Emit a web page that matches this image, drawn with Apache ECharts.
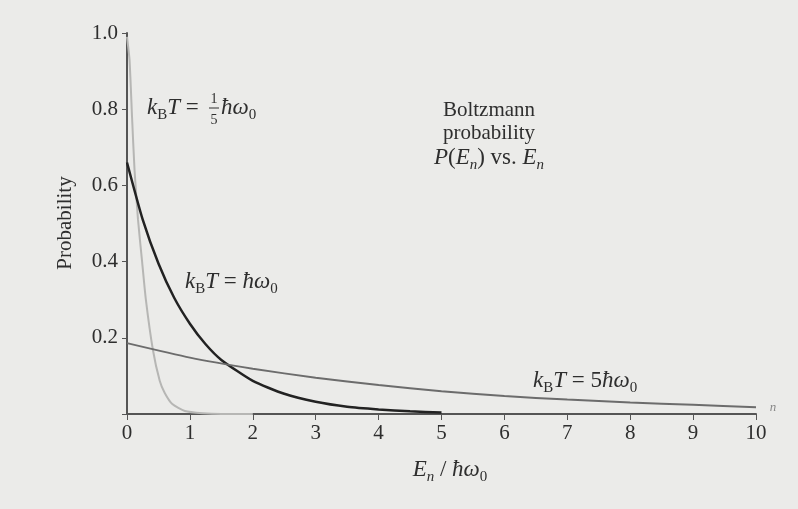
<!DOCTYPE html>
<html>
<head>
<meta charset="utf-8">
<script src="https://cdn.jsdelivr.net/npm/echarts@6/dist/echarts.min.js"></script>
<style>
  html, body { margin: 0; padding: 0; background: #ebebe9; }
  #chart { width: 798px; height: 509px; }
</style>
</head>
<body>
<div id="chart"></div>
<script>
// 读图数据
// kBT = 1/5 ħω0
const lowX = [0, 0.04, 0.08, 0.12, 0.175, 0.24, 0.3, 0.41, 0.52, 0.6, 0.72, 0.92, 1.2, 1.5, 2.0];
const lowY = [0.99, 0.93, 0.78, 0.64, 0.51, 0.40, 0.30, 0.17, 0.087, 0.055, 0.026, 0.008, 0.002, 0.0, 0.0];

// kBT = ħω0
const midX = [0, 0.25, 0.5, 0.75, 1, 1.25, 1.5, 2, 2.5, 3, 3.5, 4, 4.5, 5];
const midY = [0.66, 0.51, 0.395, 0.305, 0.237, 0.183, 0.142, 0.087, 0.053, 0.032, 0.019, 0.012, 0.007, 0.004];

// kBT = 5ħω0
const highX = [0, 1, 2, 3, 4, 5, 6, 7, 8, 9, 10];
const highY = [0.186, 0.148, 0.119, 0.095, 0.076, 0.060, 0.047, 0.038, 0.030, 0.024, 0.018];

const SERIF = '"Liberation Serif", "DejaVu Serif", serif';
const INK = '#2e2e2e';

function pairs(xs, ys) {
    return xs.map((x, i) => [x, ys[i]]);
}

const rich = {
    i: { fontFamily: SERIF, fontSize: 23, fontStyle: 'italic', color: INK },
    r: { fontFamily: SERIF, fontSize: 23, color: INK },
    s: { fontFamily: SERIF, fontSize: 15, color: INK, verticalAlign: 'bottom', padding: [14, 0, 0, 0] },
    si: { fontFamily: SERIF, fontSize: 15, fontStyle: 'italic', color: INK, verticalAlign: 'bottom', padding: [14, 0, 0, 0] }
};

// 富文本标签（x 为左端或中心，y 为中线）
function label(x, y, text, align) {
    return {
        type: 'text', x: x, y: y,
        style: { text: text, rich: rich, fill: INK, align: align || 'left', verticalAlign: 'middle' }
    };
}

function plainText(x, y, text, size) {
    return {
        type: 'text', x: x, y: y,
        style: { text: text, fill: INK, font: size + 'px ' + SERIF, align: 'center', verticalAlign: 'middle' }
    };
}

const chart = echarts.init(document.getElementById('chart'));

const option = {
    backgroundColor: '#ebebe9',
    animation: false,
    grid: { left: 127, right: 42, top: 33, bottom: 95 },
    xAxis: {
        type: 'value', min: 0, max: 10, interval: 1,
        splitLine: { show: false },
        axisLine: { lineStyle: { color: '#555', width: 2 } },
        axisTick: { length: 6, lineStyle: { color: '#555' } },
        axisLabel: { color: INK, fontSize: 21, fontFamily: SERIF, margin: 9 }
    },
    yAxis: {
        type: 'value', min: 0, max: 1, interval: 0.2,
        splitLine: { show: false },
        axisLine: { show: true, lineStyle: { color: '#555', width: 2 } },
        axisTick: { show: true, length: 5, lineStyle: { color: '#555' } },
        axisLabel: {
            color: INK, fontSize: 21, fontFamily: SERIF, margin: 9,
            formatter: v => v === 0 ? '' : v.toFixed(1)
        }
    },
    series: [
        {
            type: 'line', data: pairs(lowX, lowY), showSymbol: false, smooth: 0.2,
            lineStyle: { color: '#b6b6b4', width: 2 }
        },
        {
            type: 'line', data: pairs(midX, midY), showSymbol: false, smooth: 0.2,
            lineStyle: { color: '#222', width: 2.5 }
        },
        {
            type: 'line', data: pairs(highX, highY), showSymbol: false, smooth: 0.2,
            lineStyle: { color: '#6c6c6c', width: 2 }
        }
    ],
    graphic: [
        // kBT = 1/5 ħω0
        label(147, 108, '{i|k}{s|B}{i|T}{r| =}'),
        plainText(214, 99, '1', 14),
        { type: 'line', shape: { x1: 209, y1: 108, x2: 219, y2: 108 }, style: { stroke: INK, lineWidth: 1 } },
        plainText(214, 120, '5', 14),
        label(221, 108, '{i|ħω}{s|0}'),
        // kBT = ħω0
        label(185, 282, '{i|k}{s|B}{i|T}{r| = }{i|ħω}{s|0}'),
        // kBT = 5ħω0
        label(533, 381, '{i|k}{s|B}{i|T}{r| = 5}{i|ħω}{s|0}'),
        // 标题
        plainText(489, 110, 'Boltzmann', 21),
        plainText(489, 133, 'probability', 21),
        label(489, 158, '{i|P}{r|(}{i|E}{si|n}{r|) vs. }{i|E}{si|n}', 'center'),
        // 坐标轴名称
        label(450, 470, '{i|E}{si|n}{r| / }{i|ħω}{s|0}', 'center'),
        {
            type: 'text', x: 65, y: 223, rotation: Math.PI / 2,
            style: { text: 'Probability', fill: INK, font: '21px ' + SERIF, align: 'center', verticalAlign: 'middle' }
        },
        {
            type: 'text', x: 773, y: 408,
            style: { text: 'n', fill: '#888', font: 'italic 13px ' + SERIF, align: 'center', verticalAlign: 'middle' }
        }
    ]
};

chart.setOption(option);
</script>
</body>
</html>
